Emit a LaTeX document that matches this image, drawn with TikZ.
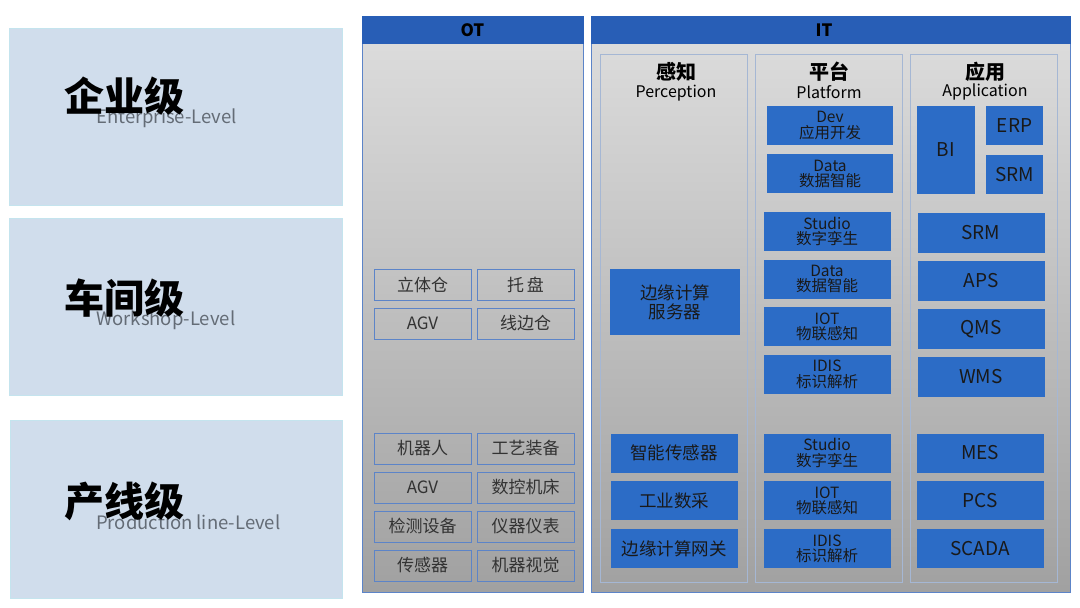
\documentclass[tikz,border=0pt]{standalone}
\usepackage{fontspec}
\setmainfont{Noto Sans CJK SC}
\usetikzlibrary{positioning}
\definecolor{lvlblue}{RGB}{208,221,236}
\definecolor{lvledge}{RGB}{196,228,238}
\definecolor{headblue}{RGB}{40,94,182}
\definecolor{boxblue}{RGB}{44,108,198}
\definecolor{colline}{RGB}{165,183,212}
\definecolor{otline}{RGB}{92,132,200}
\definecolor{lvltext}{RGB}{100,108,118}

\begin{document}
\begin{tikzpicture}[x=1pt,y=-1pt,
  lvl/.style={fill=lvlblue,draw=lvledge,line width=0.8pt},
  lvlcn/.style={anchor=west,inner sep=0pt,font=\fontsize{40}{40}\selectfont\bfseries},
  lvlen/.style={anchor=west,inner sep=0pt,text=lvltext,font=\fontsize{18.5}{18}\selectfont},
  body/.style={top color=black!14,bottom color=black!37,draw=otline,line width=0.8pt},
  head/.style={fill=headblue,draw=headblue},
  htext/.style={font=\fontsize{17}{17}\selectfont\bfseries},
  col/.style={draw=colline,line width=1pt},
  ctitle/.style={font=\fontsize{20}{20}\selectfont\bfseries,inner sep=0pt},
  csub/.style={font=\fontsize{16}{16}\selectfont,inner sep=0pt},
  otbox/.style={draw=otline,line width=1pt,minimum width=97pt,minimum height=31pt,
                inner sep=0pt,text=black!80,font=\fontsize{17}{17}\selectfont},
  itbox/.style={fill=boxblue,minimum width=127pt,minimum height=39pt,inner sep=0pt,
                align=center,text=black!90,font=\fontsize{17.5}{19}\selectfont},
  twobox/.style={itbox,font=\fontsize{15.5}{15.5}\selectfont},
  appbox/.style={itbox,font=\fontsize{19}{19}\selectfont}]
\useasboundingbox (0,0) rectangle (1080,608);
\fill[white] (0,0) rectangle (1080,608);

% levels
\draw[lvl] (9,28) rectangle (342,205);
\draw[lvl] (9,218) rectangle (342,395);
\draw[lvl] (10,420) rectangle (342,598);
\node[lvlen] (en1) at (96,118) {Enterprise-Level};
\node[lvlcn] (cn1) at (64,96) {企业级};
\node[lvlen] (en2) at (96,320) {Workshop-Level};
\node[lvlcn] (cn2) at (64,298) {车间级};
\node[lvlen] (en3) at (96,522) {Production line-Level};
\node[lvlcn] (cn3) at (64,501) {产线级};

% OT / IT frames
\draw[body] (362,43) rectangle (583,592);
\draw[head] (362,16) rectangle (583,43);
\node[htext] (ot) at (472.5,30) {OT};
\draw[body] (591,43) rectangle (1070,592);
\draw[head] (591,16) rectangle (1070,43);
\node[htext] (it) at (824,30) {IT};

% IT columns
\draw[col] (600,54) rectangle (747,582);
\draw[col] (755,54) rectangle (902,582);
\draw[col] (910,54) rectangle (1057,582);
\node[ctitle] (pcn) at (676,72) {感知};
\node[csub] (pen) at (676,93) {Perception};
\node[ctitle] (fcn) at (829,72) {平台};
\node[csub] (fen) at (829,92) {Platform};
\node[ctitle] (acn) at (985,72) {应用};
\node[csub] (aen) at (985,92) {Application};

% OT equipment
\node[otbox] (lti) at (422.5,284.5) {立体仓};
\node[otbox,right=5pt of lti] (tp) {托\,盘};
\node[otbox,below=7pt of lti] (agv1) {AGV};
\node[otbox,right=5pt of agv1] (xbc) {线边仓};
\node[otbox] (jqr) at (422.5,448.5) {机器人};
\node[otbox,right=5pt of jqr] (gyzb) {工艺装备};
\node[otbox,below=7pt of jqr] (agv2) {AGV};
\node[otbox,right=5pt of agv2] (skjc) {数控机床};
\node[otbox,below=7pt of agv2] (jcsb) {检测设备};
\node[otbox,right=5pt of jcsb] (yqyb) {仪器仪表};
\node[otbox,below=7pt of jcsb] (cgq) {传感器};
\node[otbox,right=5pt of cgq] (jqsj) {机器视觉};

% perception
\node[itbox,minimum width=130pt,minimum height=66pt] (edge) at (675,302) {边缘计算\\服务器};
\node[itbox] (zncg) at (674,453) {智能传感器};
\node[itbox,below=8.5pt of zncg] (gysc) {工业数采};
\node[itbox,below=8.5pt of gysc] (bywg) {边缘计算网关};

% platform
\node[twobox,minimum width=126pt] (dev) at (830,125.5) {Dev\\应用开发};
\node[twobox,minimum width=126pt,below=9pt of dev] (data1) {Data\\数据智能};
\node[twobox] (std1) at (827,231.5) {Studio\\数字孪生};
\node[twobox,below=8.3pt of std1] (data2) {Data\\数据智能};
\node[twobox,below=8.3pt of data2] (iot1) {IOT\\物联感知};
\node[twobox,below=8.3pt of iot1] (idis1) {IDIS\\标识解析};
\node[twobox] (std2) at (827,453) {Studio\\数字孪生};
\node[twobox,below=8.5pt of std2] (iot2) {IOT\\物联感知};
\node[twobox,below=8.5pt of iot2] (idis2) {IDIS\\标识解析};

% applications
\node[appbox,minimum width=58pt,minimum height=88pt] (bi) at (946,150) {BI};
\node[appbox,minimum width=57pt] (erp) at (1014.5,125.5) {ERP};
\node[appbox,minimum width=57pt,below=9.5pt of erp] (srm1) {SRM};
\node[appbox,minimum height=40pt] (srm2) at (981,233) {SRM};
\node[appbox,minimum height=40pt,below=7.5pt of srm2] (aps) {APS};
\node[appbox,minimum height=40pt,below=7.5pt of aps] (qms) {QMS};
\node[appbox,minimum height=40pt,below=7.5pt of qms] (wms) {WMS};
\node[appbox] (mes) at (980,453) {MES};
\node[appbox,below=8.5pt of mes] (pcs) {PCS};
\node[appbox,below=8.5pt of pcs] (scada) {SCADA};
\end{tikzpicture}
\end{document}
